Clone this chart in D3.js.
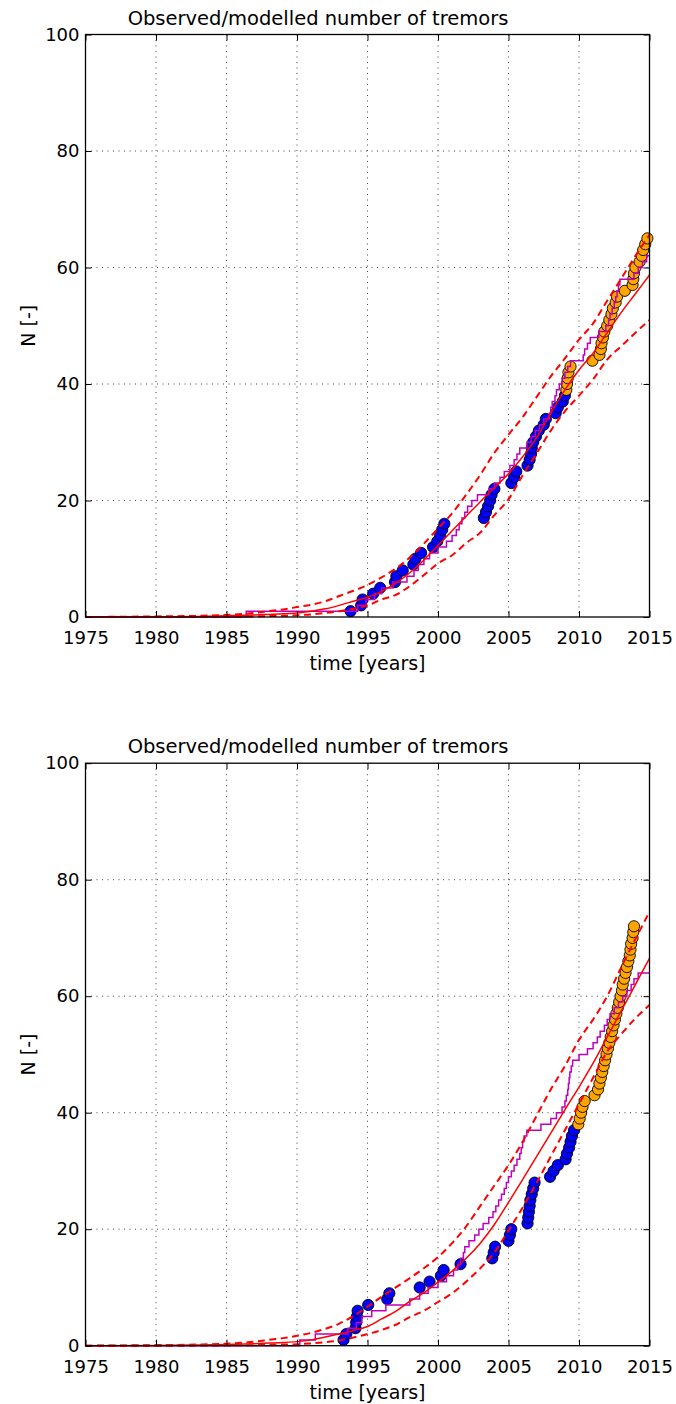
<!DOCTYPE html>
<meta charset="utf-8">
<style>
body { margin: 0; background: #fff; }
text { font-family: "DejaVu Sans", sans-serif; fill: #000; }
</style>
<body>
<script src="https://d3js.org/d3.v7.min.js"></script>
<script>

// ---- data ----
var xTicks = [1975, 1980, 1985, 1990, 1995, 2000, 2005, 2010, 2015];
var yTicks = [0, 20, 40, 60, 80, 100];

// years at which the model curves were sampled
var modelYears = [1975, 1980, 1983, 1985, 1987, 1988, 1989, 1990, 1991, 1992, 1993, 1994,
  1995, 1996, 1997, 1998, 1999, 2000, 2001, 2002, 2003, 2004, 2005, 2006, 2007, 2008,
  2009, 2010, 2011, 2012, 2013, 2014, 2015];

// top panel
var topModel = [0, 0.05, 0.1, 0.2, 0.35, 0.45, 0.55, 0.7, 1.0, 1.4, 2.0, 2.7, 3.4, 4.4, 5.8,
  7.6, 9.8, 12.3, 14.8, 17.3, 19.8, 22.2, 24.6, 27.5, 30.8, 35.0, 39.0, 42.4, 45.3, 48.8,
  52.3, 55.5, 58.7];
var topUpper = [0, 0.1, 0.2, 0.35, 0.7, 1.0, 1.3, 1.7, 2.1, 2.7, 3.6, 4.5, 5.5, 6.8, 8.3,
  10.2, 12.6, 15.2, 17.8, 21.0, 24.4, 28.2, 31.3, 34.3, 37.8, 41.3, 44.4, 47.6, 50.4, 54.3,
  58.1, 62.0, 65.6];
var topLower = [0, 0, 0.02, 0.05, 0.1, 0.15, 0.2, 0.3, 0.45, 0.7, 1.0, 1.4, 2.0, 3.0, 3.8,
  5.3, 7.2, 9.2, 10.6, 12.7, 14.5, 17.5, 20.2, 24.3, 28.1, 32.0, 35.3, 38.0, 40.8, 44.2,
  46.5, 48.8, 51.0];
// times of each step (+1) of the magenta staircase
var topSteps = [1986.4, 1994.3, 1994.9, 1995.5, 1996.0, 1996.8, 1997.8, 1998.3, 1998.6,
  1999.0, 1999.4, 2000.0, 2000.6, 2001.0, 2001.3, 2001.5, 2001.7, 2001.9, 2002.1, 2002.4,
  2002.8, 2003.6, 2004.0, 2004.4, 2004.7, 2005.1, 2005.4, 2005.6, 2005.8, 2006.3, 2006.6,
  2006.9, 2007.2, 2007.5, 2007.9, 2008.0, 2008.1, 2008.3, 2008.4, 2008.6, 2008.8, 2009.0,
  2009.2, 2009.4, 2010.3, 2010.4, 2010.6, 2010.8, 2011.4, 2011.9, 2012.1, 2012.2, 2012.35,
  2012.5, 2012.6, 2012.7, 2012.8, 2012.9, 2013.9, 2014.2, 2014.5, 2014.8];
// event times, plotted against their cumulative count
var topBlue = [1993.8, 1994.55, 1994.65, 1995.4, 1995.9, 1996.95, 1997.05, 1997.5, 1998.25,
  1998.4, 1998.8, 1999.65, 1999.95, 2000.15, 2000.3, 2000.45, 2003.25, 2003.4, 2003.55,
  2003.7, 2003.8, 2004.0, 2005.2, 2005.4, 2005.55, 2006.35, 2006.5, 2006.6, 2006.65,
  2006.75, 2006.95, 2007.15, 2007.5, 2007.65, 2008.35, 2008.5, 2008.85, 2009.0];
var topOrange = [2009.1, 2009.15, 2009.2, 2009.25, 2009.4, 2010.95, 2011.45, 2011.55,
  2011.6, 2011.7, 2011.8, 2012.0, 2012.15, 2012.3, 2012.4, 2012.6, 2012.7, 2013.25,
  2013.8, 2013.85, 2013.9, 2014.0, 2014.3, 2014.45, 2014.55, 2014.7, 2014.85];

// bottom panel
var botModel = [0, 0.05, 0.1, 0.2, 0.35, 0.45, 0.55, 0.7, 1.0, 1.5, 2.0, 2.6, 3.3, 4.6, 5.9,
  7.6, 9.1, 10.9, 12.8, 15.0, 17.6, 20.8, 24.6, 28.5, 32.5, 36.5, 40.5, 44.4, 48.5, 53.0,
  57.5, 62.0, 66.5];
var botUpper = [0, 0.1, 0.2, 0.35, 0.7, 1.0, 1.3, 1.7, 2.2, 2.9, 3.8, 5.1, 6.7, 8.4, 10.0,
  11.6, 13.3, 15.2, 17.6, 20.5, 24.0, 27.5, 31.0, 35.0, 39.5, 44.0, 48.0, 52.5, 56.0, 60.0,
  65.0, 69.8, 74.5];
var botLower = [0, 0, 0.02, 0.05, 0.1, 0.15, 0.2, 0.25, 0.4, 0.6, 0.9, 1.4, 2.0, 2.7, 3.6,
  4.9, 6.0, 7.5, 9.0, 11.0, 13.3, 16.0, 19.8, 23.7, 28.0, 32.5, 37.0, 41.5, 46.0, 50.5,
  53.5, 56.2, 58.5];
var botSteps = [1990.2, 1991.3, 1993.6, 1994.2, 1994.6, 1995.3, 1996.3, 1998.0, 1998.7,
  1999.3, 2000.0, 2000.6, 2001.1, 2001.4, 2001.6, 2001.8, 2001.9, 2002.2, 2002.6, 2002.9,
  2003.2, 2003.6, 2003.9, 2004.1, 2004.3, 2004.5, 2004.7, 2004.85, 2005.0, 2005.2, 2005.4,
  2005.6, 2005.8, 2005.9, 2006.0, 2006.1, 2006.3, 2007.3, 2008.0, 2008.4, 2008.8, 2009.0,
  2009.1, 2009.2, 2009.25, 2009.3, 2009.35, 2009.45, 2009.55, 2010.0, 2010.6, 2011.0,
  2011.3, 2011.5, 2011.8, 2012.0, 2012.2, 2012.5, 2012.8, 2013.1, 2013.4, 2013.7, 2013.9,
  2014.2];
var botBlue = [1993.3, 1993.5, 1994.15, 1994.2, 1994.25, 1994.3, 1995.05, 1996.4, 1996.55,
  1998.7, 1999.4, 2000.2, 2000.4, 2001.6, 2003.85, 2003.95, 2004.05, 2005.0, 2005.1,
  2005.2, 2006.35, 2006.4, 2006.45, 2006.5, 2006.55, 2006.65, 2006.75, 2006.85, 2007.95,
  2008.2, 2008.5, 2009.05, 2009.15, 2009.3, 2009.4, 2009.5, 2009.65];
var botOrange = [2009.95, 2010.05, 2010.15, 2010.25, 2010.4, 2011.1, 2011.35, 2011.45,
  2011.55, 2011.65, 2011.75, 2011.85, 2011.95, 2012.05, 2012.15, 2012.25, 2012.35, 2012.45,
  2012.55, 2012.65, 2012.75, 2012.85, 2012.95, 2013.05, 2013.1, 2013.2, 2013.3, 2013.4,
  2013.5, 2013.6, 2013.65, 2013.7, 2013.8, 2013.85, 2013.9];

var titleText = "Observed/modelled number of tremors";

// ---- layout ----
var svg = d3.select("body").append("svg")
    .attr("width", 676)
    .attr("height", 1404);

var left = 85.5, right = 649.5, plotH = 582.5;

var x = d3.scaleLinear().domain([1975, 2015]).range([left, right]);

function drawPanel(top, model, upper, lower, steps, blue, orange) {
  var y = d3.scaleLinear().domain([0, 100]).range([top + plotH, top]);
  var g = svg.append("g");

  // dotted grid
  g.selectAll(".vgrid").data(xTicks.slice(1, -1)).enter().append("line")
      .attr("x1", d => x(d)).attr("x2", d => x(d))
      .attr("y1", top).attr("y2", top + plotH)
      .attr("stroke", "#444").attr("stroke-width", 1)
      .attr("stroke-dasharray", "1,4.5");
  g.selectAll(".hgrid").data(yTicks.slice(1, -1)).enter().append("line")
      .attr("x1", left).attr("x2", right)
      .attr("y1", d => y(d)).attr("y2", d => y(d))
      .attr("stroke", "#444").attr("stroke-width", 1)
      .attr("stroke-dasharray", "1,4.5");

  // observed events, cumulative count
  var pts = blue.map((t, i) => ({t: t, n: i + 1, c: "#0000ff"}))
    .concat(orange.map((t, i) => ({t: t, n: blue.length + i + 1, c: "#ffa500"})));
  g.selectAll(".pt").data(pts).enter().append("circle")
      .attr("cx", d => x(d.t)).attr("cy", d => y(d.n)).attr("r", 5.6)
      .attr("fill", d => d.c).attr("stroke", "#000").attr("stroke-width", 0.9);

  // magenta staircase
  var stair = [[1975, 0]].concat(steps.map((t, i) => [t, i + 1]));
  stair.push([2015, steps.length]);
  g.append("path")
      .attr("d", d3.line().x(d => x(d[0])).y(d => y(d[1])).curve(d3.curveStepAfter)(stair))
      .attr("fill", "none").attr("stroke", "#bf00bf").attr("stroke-width", 1.5);

  // model and bounds
  var line = d3.line().x((d, i) => x(modelYears[i])).y(d => y(d)).curve(d3.curveMonotoneX);
  [upper, lower].forEach(function(s) {
    g.append("path").attr("d", line(s))
        .attr("fill", "none").attr("stroke", "#ff0000").attr("stroke-width", 2)
        .attr("stroke-dasharray", "7,4.5");
  });
  g.append("path").attr("d", line(model))
      .attr("fill", "none").attr("stroke", "#ff0000").attr("stroke-width", 1.5);

  // axes with inward ticks on all sides
  g.append("g").attr("transform", "translate(0," + (top + plotH) + ")")
      .call(d3.axisBottom(x).tickValues(xTicks).tickFormat(d3.format("d"))
        .tickSize(-6).tickPadding(14.5));
  g.append("g").attr("transform", "translate(" + left + ",0)")
      .call(d3.axisLeft(y).tickValues(yTicks).tickSize(-6).tickPadding(6));
  g.append("g").attr("transform", "translate(0," + top + ")")
      .call(d3.axisTop(x).tickValues(xTicks).tickSize(-6).tickFormat(""));
  g.append("g").attr("transform", "translate(" + right + ",0)")
      .call(d3.axisRight(y).tickValues(yTicks).tickSize(-6).tickFormat(""));
  g.selectAll(".domain").remove();
  g.selectAll(".tick line").attr("stroke", "#000");
  g.selectAll(".tick text").style("font-size", "18px")
      .style("font-family", "'DejaVu Sans', sans-serif").attr("fill", "#000");

  // frame
  g.append("rect").attr("x", left).attr("y", top)
      .attr("width", right - left).attr("height", plotH)
      .attr("fill", "none").attr("stroke", "#000").attr("stroke-width", 1.3);

  // texts
  g.append("text").attr("x", 318).attr("y", top - 10)
      .attr("text-anchor", "middle").style("font-size", "19.5px").text(titleText);
  g.append("text").attr("x", (left + right) / 2).attr("y", top + plotH + 53)
      .attr("text-anchor", "middle").style("font-size", "19px").text("time [years]");
  g.append("text")
      .attr("transform", "translate(28," + (top + plotH / 2) + ") rotate(-90)")
      .attr("dy", "0.35em")
      .attr("text-anchor", "middle").style("font-size", "19px").text("N [-]");
}

drawPanel(34.5, topModel, topUpper, topLower, topSteps, topBlue, topOrange);
drawPanel(763.2, botModel, botUpper, botLower, botSteps, botBlue, botOrange);

</script>
</body>
